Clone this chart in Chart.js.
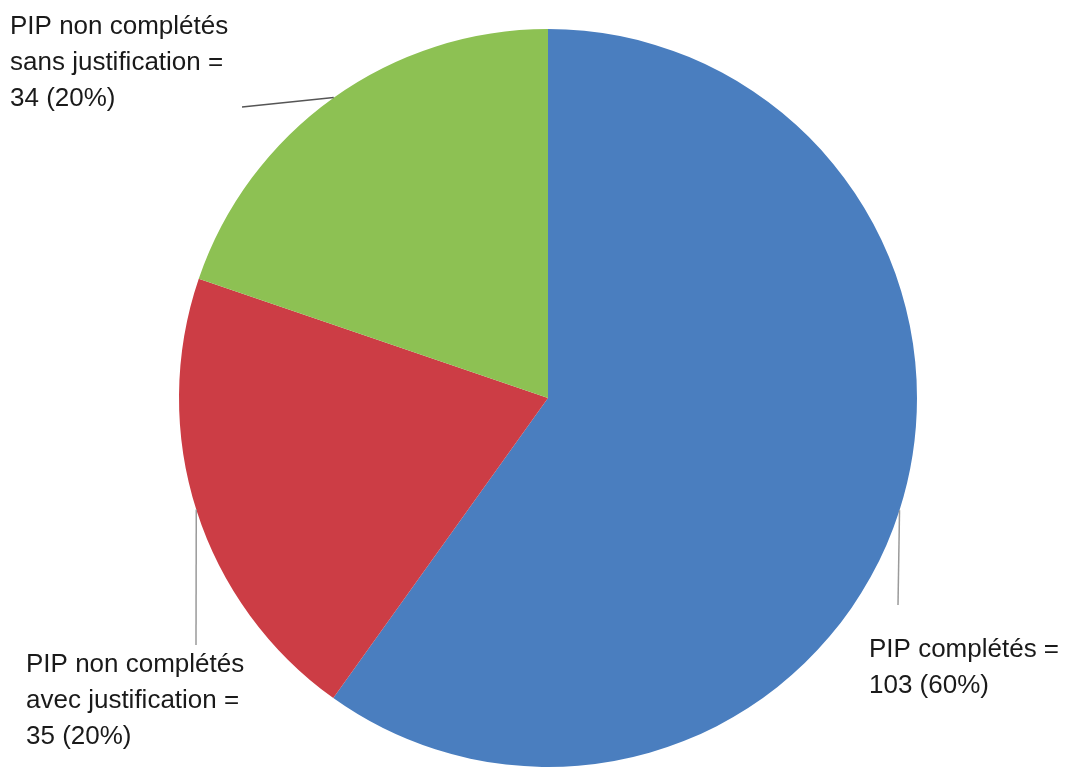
<!DOCTYPE html>
<html>
<head>
<meta charset="utf-8">
<script src="https://cdn.jsdelivr.net/npm/chart.js@4/dist/chart.umd.min.js"></script>
<style>
  html, body { margin: 0; padding: 0; background: #fff; }
  #wrap { width: 1067px; height: 767px; position: relative; }
</style>
</head>
<body>
<div id="wrap"><canvas id="pie"></canvas></div>
<script>
const categories = ['PIP complétés', 'PIP non complétés avec justification', 'PIP non complétés sans justification'];
const counts = [103, 35, 34];
const percents = [60, 20, 20];
const labelLines = [
  ['PIP complétés =', '103 (60%)'],
  ['PIP non complétés', 'avec justification =', '35 (20%)'],
  ['PIP non complétés', 'sans justification =', '34 (20%)']
];
const sliceColors = ['#4a7ebf', '#cc3d45', '#8dc153'];

// where each callout sits: angle on the rim (deg, canvas coords), line end, text origin
const callouts = [
  { angle: 17.7,   lineEnd: [898, 605], textX: 869, textY: 650, lineColor: '#9a9a9a' },
  { angle: 162.4,  lineEnd: [196, 645], textX: 26,  textY: 665, lineColor: '#9a9a9a' },
  { angle: -125.5, lineEnd: [242, 107], textX: 10,  textY: 27,  lineColor: '#555555' }
];

const calloutPlugin = {
  id: 'callouts',
  afterDraw(chart) {
    const ctx = chart.ctx;
    const meta = chart.getDatasetMeta(0);
    ctx.save();
    meta.data.forEach((arc, i) => {
      const c = callouts[i];
      const a = c.angle * Math.PI / 180;
      const sx = arc.x + Math.cos(a) * arc.outerRadius;
      const sy = arc.y + Math.sin(a) * arc.outerRadius;
      ctx.strokeStyle = c.lineColor;
      ctx.lineWidth = 1.5;
      ctx.beginPath();
      ctx.moveTo(sx, sy);
      ctx.lineTo(c.lineEnd[0], c.lineEnd[1]);
      ctx.stroke();
      ctx.fillStyle = '#1a1a1a';
      ctx.font = '26px "Liberation Sans", Arial, sans-serif';
      ctx.textBaseline = 'middle';
      ctx.textAlign = 'left';
      labelLines[i].forEach((t, k) => ctx.fillText(t, c.textX, c.textY + k * 36));
    });
    ctx.restore();
  }
};

new Chart(document.getElementById('pie'), {
  type: 'pie',
  data: {
    labels: categories,
    datasets: [{
      data: counts,
      backgroundColor: sliceColors,
      borderWidth: 0
    }]
  },
  options: {
    responsive: true,
    maintainAspectRatio: false,
    animation: false,
    layout: { padding: { left: 179, right: 150, top: 29, bottom: 0 } },
    plugins: {
      legend: { display: false },
      tooltip: { enabled: false }
    }
  },
  plugins: [calloutPlugin]
});
</script>
</body>
</html>
